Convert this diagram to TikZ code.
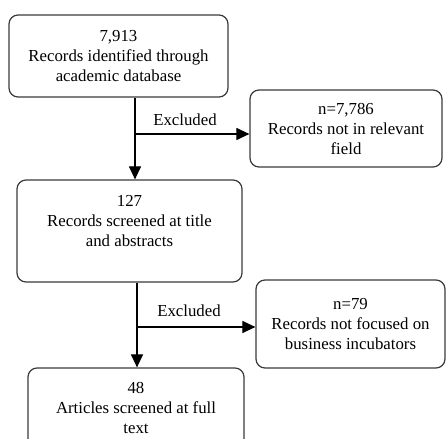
\documentclass[tikz,border=0pt]{standalone}
\usepackage{fontspec}
\setmainfont{Liberation Serif}
\usetikzlibrary{arrows.meta}
\definecolor{boxgray}{HTML}{3A3A3A}
\tikzset{
    stage/.style={
        draw=boxgray, line width=0.6pt, rounded corners=4.5pt,
        align=center, inner sep=0pt,
        font=\fontsize{8.4}{10}\selectfont
    },
    lab/.style={
        font=\fontsize{8.4}{10}\selectfont
    },
    flow/.style={-{Triangle[length=6.5pt,width=6pt]}, line width=0.6pt}
}

\begin{document}
\begin{tikzpicture}[x=0.5pt,y=-0.5pt, line join=round]

\useasboundingbox (0,0) rectangle (446,439);

% main column
\node[stage, minimum width=109.5pt, minimum height=41pt] (ident) at (118.5,56)
  {7,913\\Records identified through\\academic database};
\node[stage, minimum width=112.5pt, minimum height=51pt] (screen) at (129.5,231)
  {127\\Records screened at title\\and abstracts\\~};
\node[stage, minimum width=108pt, minimum height=40pt] (full) at (136,408)
  {48\\Articles screened at full\\text};

% excluded records
\node[stage, minimum width=96pt, minimum height=38.5pt] (field) at (346,128.5)
  {n=7,786\\Records not in relevant\\field};
\node[stage, minimum width=94.5pt, minimum height=44pt] (incub) at (350.5,324)
  {n=79\\Records not focused on\\business incubators};

\coordinate (split1) at (135,134);
\coordinate (split2) at (137,327);

\draw[flow] (ident.south -| split1) -- (screen.north -| split1);
\draw[flow] (screen.south -| split2) -- (full.north -| split2);
\draw[flow] (split1) -- (split1 -| field.west);
\draw[flow] (split2) -- (split2 -| incub.west);

\node[lab] (excl1) at (185,120) {Excluded};
\node[lab] (excl2) at (189,311) {Excluded};

\end{tikzpicture}
\end{document}
